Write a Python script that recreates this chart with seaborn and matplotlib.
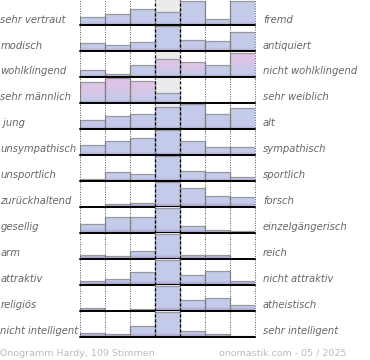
import numpy as np
import pandas as pd
import matplotlib
matplotlib.use("Agg")
import matplotlib.pyplot as plt
import seaborn as sns
from matplotlib.colors import to_rgb

left_labels = ["sehr vertraut", "modisch", "wohlklingend", "sehr männlich", " jung",
               "unsympathisch", "unsportlich", "zurückhaltend", "gesellig", "arm",
               "attraktiv", "religiös", "nicht intelligent"]
right_labels = ["fremd", "antiquiert", "nicht wohlklingend", "sehr weiblich", "alt",
                "sympathisch", "sportlich", "forsch", "einzelgängerisch", "reich",
                "nicht attraktiv", "atheistisch", "sehr intelligent"]
scale_steps = [1, 2, 3, 4, 5, 6, 7]

# bar heights per row (full row ~ 25)
votes = [
    [9.0, 11.3, 16.3, 14.0, 24.3, 6.3, 24.3],
    [8.3, 6.3, 9.3, 25.3, 11.3, 10.3, 19.3],
    [7.7, 3.7, 12.3, 19.0, 15.7, 12.3, 25.0],
    [21.7, 25.3, 23.0, 11.0, 0.0, 0.0, 0.0],
    [9.7, 13.7, 15.7, 22.3, 25.3, 15.7, 21.7],
    [10.3, 14.3, 17.3, 25.3, 15.0, 8.3, 8.3],
    [2.3, 9.7, 7.7, 25.3, 10.7, 9.7, 4.3],
    [0.0, 3.7, 4.7, 25.3, 19.3, 11.7, 10.3],
    [9.0, 16.3, 16.3, 25.3, 7.7, 3.7, 2.3],
    [4.3, 3.3, 8.3, 25.3, 4.3, 4.3, 0.0],
    [4.3, 6.3, 13.7, 25.3, 10.7, 14.7, 4.3],
    [3.3, 0.0, 2.3, 25.3, 11.7, 13.7, 6.7],
    [4.3, 3.3, 11.0, 25.0, 6.7, 3.7, 1.7],
]
pink_bars = {(2, 3), (2, 4), (2, 6), (3, 0), (3, 1), (3, 2)}

W, H = 370, 360
ROW_H = 25.96
TOP0 = -0.2

BLUE = np.array(to_rgb("#c4cbea"))
PURPLE = np.array(to_rgb("#a496c6"))
PINK = np.array(to_rgb("#dec4e6"))

sns.set_theme(style="white")
plt.rcParams["font.family"] = ["DejaVu Sans"]


def gradient(h, pink):
    ys = np.linspace(0, h, 80)
    img = np.zeros((len(ys), 1, 3))
    for k, y in enumerate(ys):
        t = min(y / 4.0, 1.0)
        c = PURPLE * (1 - t) + BLUE * t
        if pink:
            s = np.clip((y - 0.2 * h) / (0.5 * h), 0, 1)
            c = c * (1 - s) + PINK * s
        img[k, 0] = c
    return img


fig = plt.figure(figsize=(W / 100, H / 100), dpi=100)

for i in range(len(votes)):
    y_top = TOP0 + i * ROW_H
    ax = fig.add_axes([80 / W, 1 - (y_top + ROW_H) / H, 175 / W, ROW_H / H])
    df = pd.DataFrame({"step": scale_steps, "share": votes[i]})
    sns.barplot(data=df, x="step", y="share", ax=ax, width=1.0, color="#c4cbea",
                saturation=1, errorbar=None, edgecolor="#999999", linewidth=0.9,
                zorder=2)
    for j, p in enumerate(ax.patches):
        h = p.get_height()
        if h <= 0:
            p.set_visible(False)
            continue
        x0 = p.get_x()
        im = ax.imshow(gradient(h, (i, j) in pink_bars), origin="lower", aspect="auto",
                       extent=(x0, x0 + p.get_width(), 0, h), zorder=1.5,
                       interpolation="bilinear")
        im.set_clip_path(p)
        p.set_facecolor("none")

    # light grey middle column behind the bars
    ax.fill_between([2.5, 3.5], 0, ROW_H, color="#ebebeb", lw=0, zorder=0.5)

    for xv in [-0.5, 0.5, 1.5, 4.5, 5.5, 6.5]:
        ax.axvline(xv, color="#555555", ls=(0, (1, 1.5)), lw=0.7, zorder=3, clip_on=False)
    for xv in [2.5, 3.5]:
        ax.axvline(xv, color="black", ls=(0, (2.5, 1.5)), lw=0.9, zorder=3, clip_on=False)
    ax.axhline(0.3, color="black", lw=1.4, zorder=4, clip_on=False)

    ax.set_xlim(-0.5, 6.5)
    ax.set_ylim(0, ROW_H)
    ax.set_axis_off()

    base = y_top + ROW_H
    fig.text(0.5 / W, 1 - (base - 3.2) / H, left_labels[i], fontsize=7.2,
             style="italic", color="#666666", va="baseline", ha="left")
    fig.text(263 / W, 1 - (base - 3.2) / H, right_labels[i], fontsize=7.2,
             style="italic", color="#666666", va="baseline", ha="left")

fig.text(0.5 / W, 1 - 355.5 / H, "Onogramm Hardy, 109 Stimmen", fontsize=6.8,
         color="#bbbbbb", va="baseline", ha="left")
fig.text(346 / W, 1 - 355.5 / H, "onomastik.com - 05 / 2025", fontsize=6.8,
         color="#bbbbbb", va="baseline", ha="right")

fig.savefig("out.png", dpi=100)
